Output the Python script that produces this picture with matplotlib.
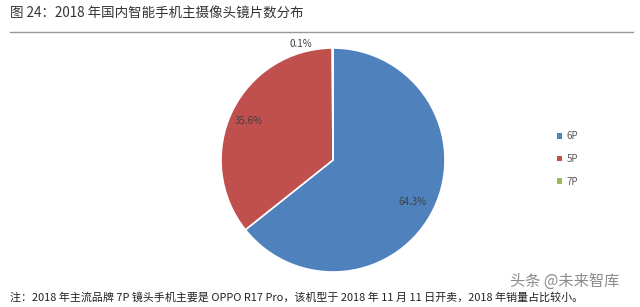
import matplotlib
matplotlib.use("Agg")
import matplotlib.pyplot as plt
from matplotlib.lines import Line2D
from matplotlib.patches import Patch

plt.rcParams['font.family'] = ['Noto Sans CJK SC', 'DejaVu Sans']

title = "图 24：2018 年国内智能手机主摄像头镜片数分布"
categories = ["6P", "5P", "7P"]
values = [64.3, 35.6, 0.1]
colors = ["#4F81BD", "#C0504D", "#9BBB59"]
note = "注：2018 年主流品牌 7P 镜头手机主要是 OPPO R17 Pro，该机型于 2018 年 11 月 11 日开卖，2018 年销量占比较小。"
watermark = "头条 @未来智库"

W, H = 640, 307
fig = plt.figure(figsize=(W / 100, H / 100), dpi=100)

# pie axes: center (333,160), radius 112 px
cx, cy, r = 333, 160, 112
ax = fig.add_axes([(cx - r) / W, 1 - (cy + r) / H, 2 * r / W, 2 * r / H])
wedges, _ = ax.pie(values, colors=colors, startangle=90, counterclock=False,
                   wedgeprops=dict(edgecolor="white", linewidth=1.2))
ax.set_xlim(-1, 1)
ax.set_ylim(-1, 1)
ax.set_aspect('equal')
ax.axis('off')

# percentage labels
def to_data(px, py):
    return ((px - cx) / r, (cy - py) / r)

label_pos = [(413, 202), (249, 121), (301, 44)]
for v, (px, py) in zip(values, label_pos):
    x, y = to_data(px, py)
    ax.text(x, y, f"{v:.1f}%", ha='center', va='center', fontsize=7,
            color="#404040", clip_on=False)

# title
fig.text(10 / W, 1 - 14 / H, title, fontsize=9.7, color="#333333",
         ha='left', va='center')
fig.add_artist(Line2D([10 / W, 633 / W], [1 - 32 / H, 1 - 32 / H],
                      color="#999999", linewidth=1.0))

# legend
handles = [Patch(facecolor=c, edgecolor='none') for c in colors]
leg = fig.legend(handles, categories, loc='center left',
                 bbox_to_anchor=(548 / W, 1 - 159 / H), frameon=False,
                 fontsize=7, handlelength=0.5, handleheight=0.5,
                 handletextpad=0.5, labelspacing=1.3, labelcolor="#595959")

# footnote
fig.text(10 / W, 1 - 297 / H, note, fontsize=7.9, color="#222222",
         ha='left', va='center')
fig.text(510 / W, 1 - 281 / H, watermark, fontsize=11, color="#777777",
         ha='left', va='center', alpha=0.85)

fig.savefig("out.png", dpi=100, facecolor="white")
